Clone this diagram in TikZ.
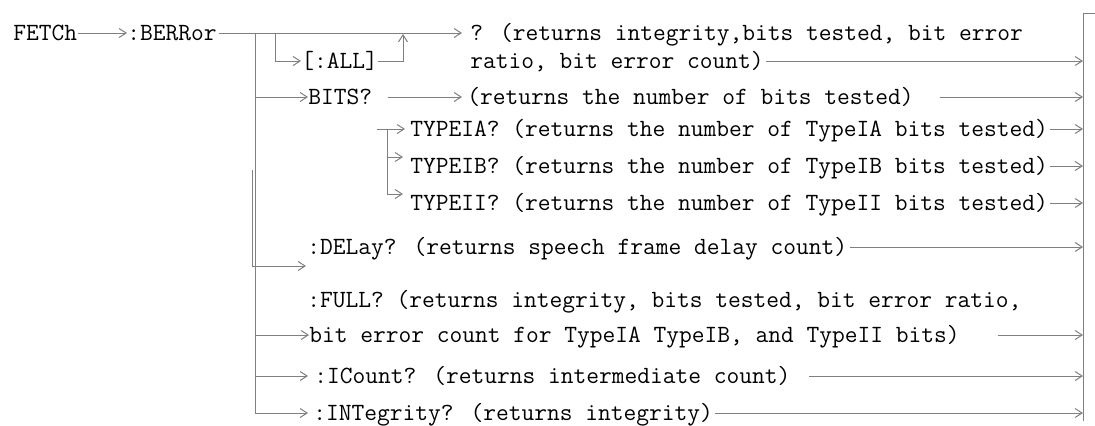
\documentclass[tikz,border=0pt]{standalone}
\usepackage{fontspec}
\usetikzlibrary{arrows.meta,calc}

\definecolor{wire}{gray}{0.5}

\begin{document}
\begin{tikzpicture}[x=0.5pt,y=-0.5pt,>={Straight Barb[length=3.5pt,width=4.5pt]},
    cmd/.style={anchor=west,inner sep=0pt,text height=7.6pt,text depth=0pt,
      font=\ttfamily\fontsize{12.38pt}{14pt}\selectfont},
    wire/.style={draw=wire,line width=0.5pt}]
  \useasboundingbox (0,0) rectangle (1095,425);

  % command words and answers
  \node[cmd] (fetch) at (13,33) {FETCh};
  \node[cmd] (berr) at (127,33) {:BERRor};
  \node[cmd] (q1) at (470,33) {? (returns integrity,bits tested, bit error};
  \node[cmd] (q2) at (470,61) {ratio, bit error count)};
  \node[cmd] (all) at (301,61) {[:ALL]};
  \node[cmd] (bits) at (308,97) {BITS?};
  \node[cmd] (bitsq) at (467,97) {(returns the number of bits tested)};
  \node[cmd] (tia) at (410,129) {TYPEIA? (returns the number of TypeIA bits tested)};
  \node[cmd] (tib) at (410,166) {TYPEIB? (returns the number of TypeIB bits tested)};
  \node[cmd] (tii) at (410,203) {TYPEII? (returns the number of TypeII bits tested)};
  \node[cmd] (delay) at (307,247) {:DELay? (returns speech frame delay count)};
  \node[cmd] (full1) at (307,300) {:FULL? (returns integrity, bits tested, bit error ratio,};
  \node[cmd] (full2) at (309,335) {bit error count for TypeIA TypeIB, and TypeII bits)};
  \node[cmd] (icount) at (314,376) {:ICount? (returns intermediate count)};
  \node[cmd] (integ) at (313,413) {:INTegrity? (returns integrity)};

  % corners and loose ends
  \coordinate (mv) at (255,33);
  \coordinate (ab) at (275,33);
  \coordinate (au) at (403,34);
  \coordinate (ts) at (377,129);
  \coordinate (tv) at (387,129);
  \coordinate (tb) at (403,157);
  \coordinate (tc) at (403,194);
  \coordinate (ds) at (252,170);
  \coordinate (de) at (306,266);
  \coordinate (rt) at (1083,13);
  \coordinate (rtick) at (1095,13);
  \coordinate (rb) at (1083,421);

  \draw[wire,->] (fetch) -- (berr);
  \draw[wire,->,shorten <=1pt,shorten >=4pt] (berr) -- (q1);
  \draw[wire,->] (ab) |- (all);
  \draw[wire,->] (all) -| (au);
  \draw[wire,->] (mv) |- (bits);
  \draw[wire,->,shorten <=7.5pt,shorten >=2.5pt] (bits) -- (bitsq);
  \draw[wire,->,shorten >=2.5pt] (ts) -- (tia);
  \draw[wire] (tv) -- (tv |- tc);
  \draw[wire,->] (tv |- tb) -- (tb);
  \draw[wire,->] (tv |- tc) -- (tc);
  \draw[wire,->] (ds) |- (de);
  \draw[wire,->] (mv) |- (full2);
  \draw[wire,->,shorten >=3pt] (mv) |- (icount);
  \draw[wire,->,shorten >=2.5pt] (mv) |- (integ);

  % right rail
  \draw[wire] (rtick) -- (rt) -- (rb);
  \draw[wire,->,shorten <=1pt] (q2.east) -- (q2.east -| rt);
  \draw[wire,->,shorten <=13pt] (bitsq.east) -- (bitsq.east -| rt);
  \draw[wire,->,shorten <=1pt] (tia.east) -- (tia.east -| rt);
  \draw[wire,->,shorten <=1pt] (tib.east) -- (tib.east -| rt);
  \draw[wire,->,shorten <=1pt] (tii.east) -- (tii.east -| rt);
  \draw[wire,->,shorten <=1pt] (delay.east) -- (delay.east -| rt);
  \draw[wire,->,shorten <=19pt] (full2.east) -- (full2.east -| rt);
  \draw[wire,->,shorten <=9pt] (icount.east) -- (icount.east -| rt);
  \draw[wire,->,shorten <=1pt] (integ.east) -- (integ.east -| rt);
\end{tikzpicture}
\end{document}
